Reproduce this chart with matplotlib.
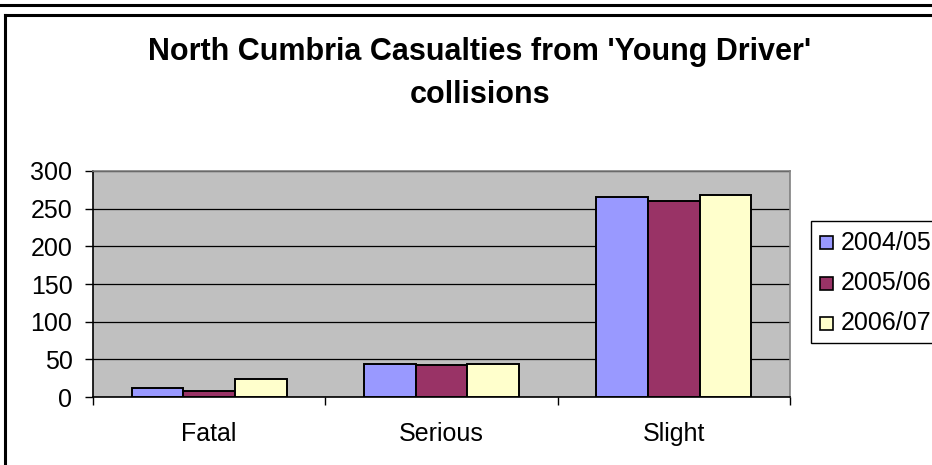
import numpy as np
import matplotlib.pyplot as plt
import matplotlib.transforms as mtransforms
from matplotlib.lines import Line2D
from matplotlib.patches import Rectangle
plt.rcParams.update({'font.family': ['Liberation Sans', 'DejaVu Sans']})

# casualty counts
categories = ['Fatal', 'Serious', 'Slight']
years = ['2004/05', '2005/06', '2006/07']
v0405 = [12, 44, 266]
v0506 = [8, 42, 260]
v0607 = [24, 44, 268]
colours = ['#9999FF', '#993366', '#FFFFCC']
yticks = [0, 50, 100, 150, 200, 250, 300]

W, H = 932, 465
fig = plt.figure(figsize=(W / 100, H / 100), dpi=100)

def fx(px):
    return px / W

def fy(py):
    return 1 - py / H

# outer frame pieces (image is cropped)
fig.add_artist(Line2D([0, 1], [fy(5), fy(5)], color='black', lw=2.2))
fig.add_artist(Line2D([fx(5), 1], [fy(15), fy(15)], color='black', lw=2.2))
fig.add_artist(Line2D([fx(5), fx(5)], [fy(15), 0], color='black', lw=2.2))

ax = fig.add_axes([fx(93), fy(397), fx(790) - fx(93), fy(171) - fy(397)])
ax.set_facecolor('#C0C0C0')

x = np.arange(len(categories))
bw = 0.222
for i, (vals, col) in enumerate(zip([v0405, v0506, v0607], colours)):
    ax.bar(x + (i - 1) * bw, vals, width=bw, color=col, edgecolor='black',
           linewidth=1.4, label=years[i], zorder=3)

ax.set_xlim(-0.5, 2.5)
ax.set_ylim(0, 300)
ax.set_yticks(yticks)
ax.yaxis.grid(True, color='black', linewidth=0.9, zorder=1)
ax.set_axisbelow(True)
ax.set_xticks([-0.5, 0.5, 1.5, 2.5])
ax.set_xticklabels([])
ax.tick_params(axis='x', length=5.8, width=1, direction='out')
ax.tick_params(axis='y', length=5.8, width=1, direction='out', pad=9, labelsize=18)
for s in ['top', 'right']:
    ax.spines[s].set_color('#808080')
    ax.spines[s].set_linewidth(1.2)
for s in ['left', 'bottom']:
    ax.spines[s].set_color('black')
    ax.spines[s].set_linewidth(1.2)

# category labels
trans = mtransforms.blended_transform_factory(ax.transData, fig.transFigure)
for xi, name in zip(x, categories):
    ax.text(xi, fy(441), name, transform=trans, ha='center', va='baseline',
            fontsize=18)

fig.text(fx(480), fy(52), "North Cumbria Casualties from 'Young Driver'",
         ha='center', va='center', fontsize=22, fontweight='bold')
fig.text(fx(480), fy(95), 'collisions',
         ha='center', va='center', fontsize=22, fontweight='bold')

# legend, box runs off the right edge
fig.add_artist(Rectangle((fx(811), fy(343)), fx(200), fy(221) - fy(343),
                         transform=fig.transFigure, facecolor='white',
                         edgecolor='black', lw=1.0, clip_on=False))
for i, yr in enumerate(years):
    cy = 243 + 40 * i
    fig.add_artist(Rectangle((fx(820), fy(cy + 6.5)), fx(13), fy(cy - 6.5) - fy(cy + 6.5),
                             transform=fig.transFigure, facecolor=colours[i],
                             edgecolor='black', lw=1.2))
    fig.text(fx(841), fy(cy), yr, ha='left', va='center', fontsize=18)

fig.savefig('out.png', dpi=100)
